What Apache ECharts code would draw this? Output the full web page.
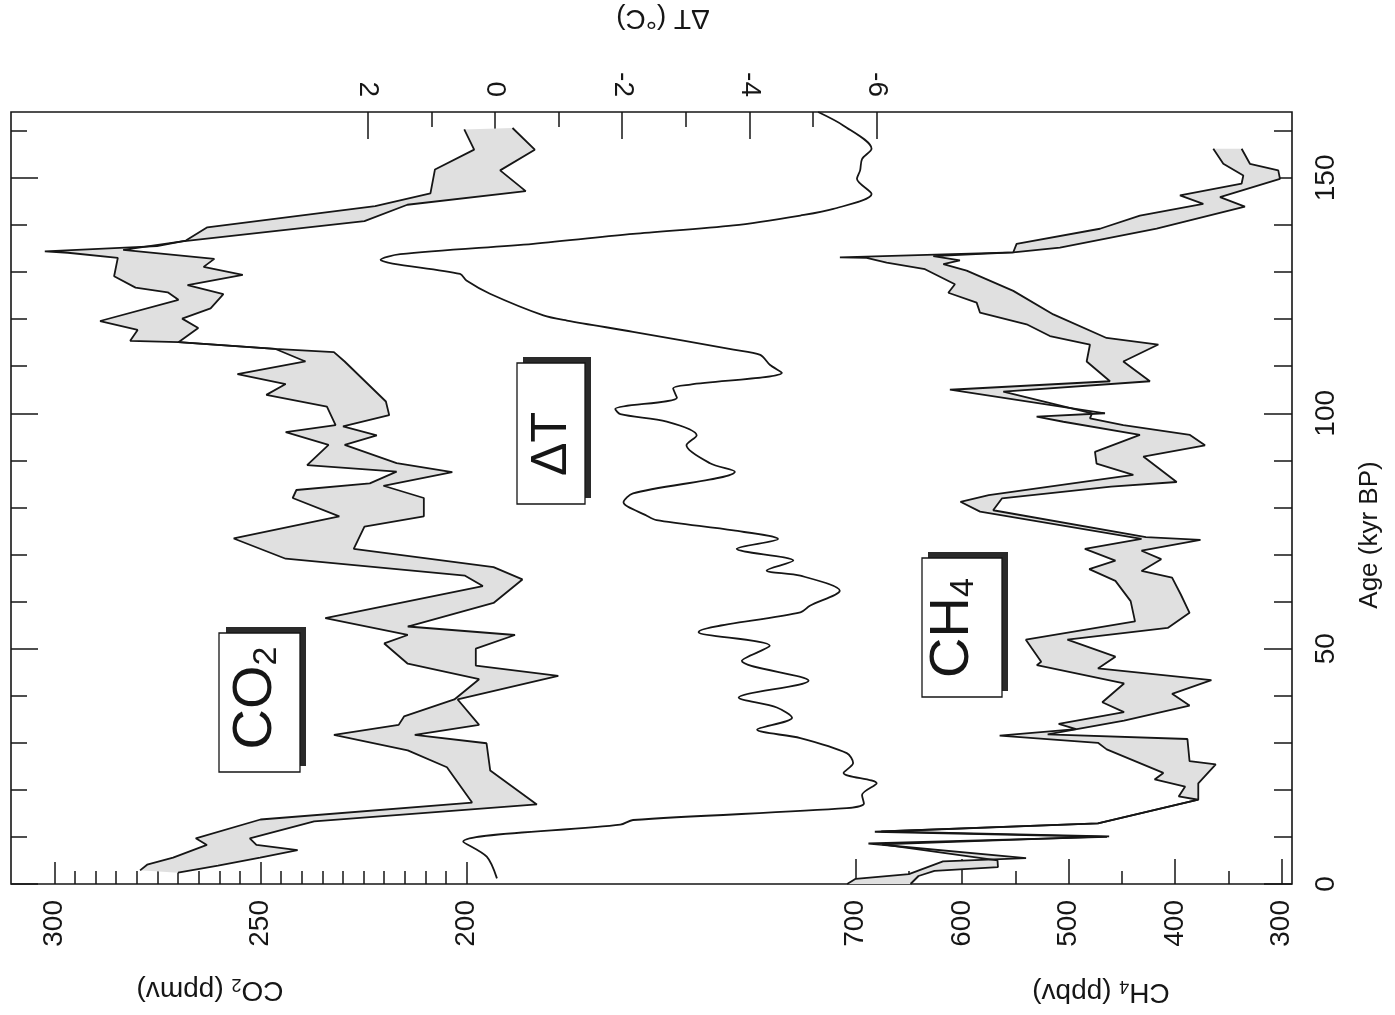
<!DOCTYPE html>
<html><head><meta charset="utf-8">
<script src="https://cdn.jsdelivr.net/npm/echarts@6/dist/echarts.min.js"></script>
<style>html,body{margin:0;padding:0;background:#fff}#c{width:1395px;height:1015px}</style>
</head><body><div id="c"></div>
<script>
// ---- tick values ----
const ageMajor = [0, 50, 100, 150];
const ageMinor = [10, 20, 30, 40, 60, 70, 80, 90, 110, 120, 130, 140, 160];
const co2Major = [200, 250, 300];
const co2Minor = [205, 210, 215, 220, 225, 230, 235, 240, 245, 255, 260, 265, 270, 275, 280, 285, 290, 295];
const ch4Major = [300, 400, 500, 600, 700];
const ch4Minor = [350, 450, 550, 650];
const dtMajor = [2, 0, -2, -4, -6];
const dtMinor = [1, -1, -3, -5];

// ---- data: [age kyr BP, value] ----
const co2High = [[2.9,279.2],[4.1,277.5],[5.6,271.2],[8.3,263.0],[9.7,265.7],[13.7,250.0],[17.3,198.7],[24.8,204.8],[28.4,214.3],[31.7,232.2],[33.8,216.5],[35.6,215.2],[39.2,203.0],[43.5,197.0],[46.8,214.3],[51.1,220.0],[52.9,214.3],[56.5,234.3],[63.3,196.1],[65.5,200.4],[69.1,243.9],[73.4,256.5],[78.1,230.9],[82.0,242.2],[83.7,241.3],[85.1,223.5],[87.6,217.0],[89.0,238.7],[93.3,233.5],[96.0,243.9],[97.5,231.8],[101.4,233.9],[103.9,248.6],[106.2,243.9],[108.3,255.6],[111.0,239.1],[113.7,246.5],[115.1,269.9],[115.4,281.6],[117.7,279.8],[119.6,288.9],[124.1,269.9],[125.7,272.5],[126.7,280.3],[129.1,285.5],[133.0,284.6],[134.1,296.7],[134.4,302.3],[135.5,275.1],[136.7,268.1],[139.5,262.9],[144.0,222.2],[146.7,208.8],[151.8,207.7],[156.0,198.2],[160.3,200.6]];
const co2Low = [[2.4,270.0],[3.9,260.3],[5.6,250.1],[7.2,241.0],[8.3,251.0],[9.7,252.6],[13.3,237.0],[16.9,183.0],[24.1,194.3],[29.9,195.2],[31.7,212.6],[33.8,197.0],[39.2,202.2],[44.2,177.8],[46.4,197.8],[50.0,197.8],[52.9,188.3],[54.7,214.3],[59.7,193.5],[64.7,186.5],[67.3,193.5],[71.2,227.4],[75.9,224.8],[78.1,210.4],[82.0,210.4],[84.6,220.2],[87.5,203.5],[89.4,217.0],[93.3,229.6],[95.3,221.8],[97.2,230.0],[99.6,218.8],[102.5,219.6],[111.0,229.6],[113.0,232.2],[113.7,246.5],[115.1,269.9],[118.1,265.1],[120.1,269.0],[122.3,262.1],[125.3,259.0],[127.2,267.7],[129.4,254.3],[131.1,263.8],[132.8,261.2],[134.7,283.3],[136.5,269.0],[140.8,224.8],[144.3,214.4],[147.2,185.7],[151.6,191.9],[156.0,183.5],[160.6,188.9]];
const deltaT = [[1.2,-0.03],[5.8,0.13],[9.0,0.50],[12.6,-1.97],[13.6,-2.17],[16.1,-5.53],[17.1,-5.80],[18.9,-5.77],[21.4,-6.00],[23.6,-5.48],[25.7,-5.63],[27.8,-5.53],[31.0,-4.80],[32.8,-4.12],[35.3,-4.67],[37.5,-4.43],[39.6,-3.83],[43.2,-4.93],[47.4,-3.88],[50.6,-4.32],[53.5,-3.20],[57.7,-4.80],[59.1,-4.95],[62.3,-5.42],[65.5,-4.80],[66.6,-4.27],[68.7,-4.69],[71.2,-3.80],[73.3,-4.45],[75.1,-3.75],[77.3,-2.54],[78.3,-2.38],[81.1,-2.02],[83.0,-2.17],[87.6,-3.77],[89.4,-3.38],[93.2,-3.01],[95.3,-3.17],[98.2,-2.70],[99.8,-1.97],[100.9,-1.89],[103.3,-2.86],[105.3,-2.80],[106.1,-3.07],[108.6,-4.51],[110.3,-4.32],[112.4,-4.17],[113.5,-3.75],[117.3,-2.17],[119.7,-1.13],[120.8,-0.76],[125.4,0.08],[128.2,0.45],[129.6,0.55],[131.8,1.61],[132.6,1.80],[133.8,1.49],[136.0,-0.60],[138.1,-2.17],[139.9,-3.75],[142.0,-4.80],[143.4,-5.32],[146.6,-5.92],[149.8,-5.69],[151.6,-5.74],[154.0,-5.77],[156.2,-5.92],[161.1,-5.48],[164.0,-5.08]];
const ch4High = [[0.0,708],[1.1,700],[2.1,650],[4.8,618],[5.5,540],[8.6,688],[10.0,464],[11.1,682],[12.9,472.5],[17.9,378.3],[18.6,396.7],[20.7,390.6],[22.2,419.3],[23.6,411.1],[28.6,464.3],[30.0,472.5],[31.5,564.8],[32.9,493.0],[34.0,509.4],[36.5,448.0],[38.6,468.4],[42.6,448.0],[46.5,529.9],[47.2,525.8],[51.9,540.2],[55.8,437.7],[60.1,441.8],[64.4,456.1],[66.9,480.7],[68.7,456.1],[71.2,484.8],[73.3,431.6],[79.1,583.2],[81.2,601.6],[82.6,575.0],[86.9,439.3],[89.3,473.8],[91.8,475.3],[95.4,433.1],[98.2,505.0],[99.3,530.1],[100.0,465.9],[105.0,611.5],[106.8,461.2],[111.0,483.1],[114.6,480.0],[116.4,517.6],[118.9,539.5],[121.4,583.3],[123.5,586.4],[125.6,613.0],[127.4,606.8],[130.6,634.9],[132.0,670.9],[133.0,689.7],[133.1,714.8],[134.2,552.0],[136.0,548.9],[139.2,470.6],[142.0,433.1],[144.5,373.6],[146.3,395.5],[148.8,337.6],[150.5,336.0],[153.0,354.8],[156.2,364.2]];
const ch4Low = [[0.0,648.5],[1.7,641],[2.8,626],[3.6,566.4],[5.0,566.8],[8.4,675],[10.1,462],[11.2,676],[12.9,472.5],[17.9,378.3],[21.4,378.3],[25.4,361.9],[26.1,386.5],[30.8,388.5],[31.8,519.7],[34.7,448.0],[37.9,386.5],[40.4,402.9],[43.3,366.0],[45.8,472.5],[48.3,456.1],[51.9,501.2],[54.4,407.0],[57.6,386.5],[61.5,394.7],[65.1,402.9],[66.5,431.6],[69.0,413.1],[70.8,431.6],[73.1,376.2],[73.7,427.5],[79.4,570.9],[81.9,562.7],[84.4,460.2],[85.4,398.6],[90.8,429.9],[93.2,372.0],[95.4,386.1],[97.5,448.7],[98.9,480.0],[100.0,478],[104.6,561.4],[106.8,423.7],[111.0,448.7],[114.6,415.8],[116.0,464.4],[121.0,514.4],[126.0,552.0],[130.3,595.8],[131.7,617.7],[132.5,602.1],[133.4,627.1],[134.2,552.0],[135.2,508.2],[139.2,417.4],[143.9,334.5],[145.9,357.9],[149.8,301.6],[151.6,303.2],[153.0,329.8],[156.2,337.6]];

const F = "'Liberation Sans', Arial, Helvetica, sans-serif";
const INK = '#161616';

function xAxisDef(min, max, pos, ticks, len, labels, margin) {
  return {
    type: 'value', position: pos, inverse: true, min: min, max: max,
    axisLine: {show: false, onZero: false}, splitLine: {show: false},
    axisTick: {show: true, inside: true, length: len, customValues: ticks, lineStyle: {color: INK, width: 1.5}},
    axisLabel: labels ? {show: true, customValues: labels, rotate: 90, margin: margin, fontSize: 28, fontFamily: F, color: INK} : {show: false}
  };
}
function yAxisDef(pos, ticks, len, labels) {
  return {
    type: 'value', position: pos, min: 0, max: 164,
    axisLine: {show: false, onZero: false}, splitLine: {show: false},
    axisTick: {show: true, inside: true, length: len, customValues: ticks, lineStyle: {color: INK, width: 1.5}},
    axisLabel: labels ? {show: true, customValues: labels, rotate: 90, margin: 20, fontSize: 28, fontFamily: F, color: INK} : {show: false}
  };
}
const toXY = arr => arr.map(p => [p[1], p[0]]);

function band(hi, lo) {
  return function (params, api) {
    const pts = hi.map(p => api.coord([p[1], p[0]]))
      .concat(lo.slice().reverse().map(p => api.coord([p[1], p[0]])));
    return {type: 'polygon', shape: {points: pts}, style: {fill: '#e0e0e0', stroke: null}, silent: true};
  };
}
function lineSeries(data, xi, smooth) {
  return {type: 'line', xAxisIndex: xi, yAxisIndex: 0, data: toXY(data), showSymbol: false, symbol: 'none',
    smooth: smooth || false, lineStyle: {color: INK, width: 1.8}, z: 3, silent: true};
}
function boxText(x, y, rich, text) {
  return {type: 'text', x: x, y: y, rotation: Math.PI / 2, z: 12,
    style: {text: text, rich: rich, align: 'center', verticalAlign: 'middle'}};
}
const big = {a: {fontSize: 56, fontFamily: F, fill: INK, lineHeight: 56},
             b: {fontSize: 34, fontFamily: F, fill: INK, lineHeight: 36, verticalAlign: 'bottom'}};
const small = {a: {fontSize: 28, fontFamily: F, fill: INK, lineHeight: 30},
               b: {fontSize: 18, fontFamily: F, fill: INK, lineHeight: 22, verticalAlign: 'bottom'}};

const chart = echarts.init(document.getElementById('c'), null, {renderer: 'canvas'});
chart.setOption({
  animation: false,
  backgroundColor: '#fff',
  grid: {left: 11, right: 103, top: 112, bottom: 131, show: true, borderColor: INK, borderWidth: 1.6,
         backgroundColor: 'transparent', containLabel: false, outerBoundsMode: 'none'},
  xAxis: [
    xAxisDef(-0.1, 310.5, 'bottom', co2Major, 22, co2Major, 16),
    xAxisDef(-0.1, 310.5, 'bottom', co2Minor, 13, null),
    xAxisDef(290.3, 1493.1, 'bottom', ch4Major, 25, ch4Major, 16),
    xAxisDef(290.3, 1493.1, 'bottom', ch4Minor, 13, null),
    xAxisDef(-12.53, 7.61, 'top', dtMajor, 27, dtMajor, 15),
    xAxisDef(-12.53, 7.61, 'top', dtMinor, 15, null)
  ],
  yAxis: [
    yAxisDef('right', ageMajor, 28, ageMajor),
    yAxisDef('right', ageMinor, 18, null),
    yAxisDef('left', ageMajor, 27, null),
    yAxisDef('left', ageMinor, 16, null)
  ],
  series: [
    {type: 'custom', xAxisIndex: 0, yAxisIndex: 0, data: [[co2High[0][1], co2High[0][0]]], renderItem: band(co2High, co2Low), z: 1, silent: true},
    {type: 'custom', xAxisIndex: 2, yAxisIndex: 0, data: [[ch4High[0][1], ch4High[0][0]]], renderItem: band(ch4High, ch4Low), z: 1, silent: true},
    lineSeries(co2High, 0),
    lineSeries(co2Low, 0),
    lineSeries(deltaT, 4, 0.3),
    lineSeries(ch4High, 2),
    lineSeries(ch4Low, 2)
  ],
  graphic: [
    {type: 'rect', shape: {x: 226, y: 627, width: 80, height: 139}, style: {fill: '#2a2a2a'}, z: 10},
    {type: 'rect', shape: {x: 219, y: 633, width: 81, height: 139}, style: {fill: '#fff', stroke: INK, lineWidth: 1.3}, z: 11},
    boxText(256, 698, big, '{a|CO}{b|2}'),
    {type: 'rect', shape: {x: 523, y: 357, width: 68, height: 141}, style: {fill: '#2a2a2a'}, z: 10},
    {type: 'rect', shape: {x: 517, y: 363, width: 68, height: 141}, style: {fill: '#fff', stroke: INK, lineWidth: 1.3}, z: 11},
    boxText(552, 444, {a: {fontSize: 50, fontFamily: F, fill: INK}}, '{a|ΔT}'),
    {type: 'rect', shape: {x: 928, y: 552, width: 80, height: 139}, style: {fill: '#2a2a2a'}, z: 10},
    {type: 'rect', shape: {x: 922, y: 558, width: 80, height: 139}, style: {fill: '#fff', stroke: INK, lineWidth: 1.3}, z: 11},
    boxText(953, 628, big, '{a|CH}{b|4}'),
    {type: 'text', x: 210, y: 990, rotation: Math.PI, z: 12, style: {text: '{a|CO}{b|2}{a| (ppmv)}', rich: small, align: 'center', verticalAlign: 'middle'}},
    {type: 'text', x: 1101, y: 992, rotation: Math.PI, z: 12, style: {text: '{a|CH}{b|4}{a| (ppbv)}', rich: small, align: 'center', verticalAlign: 'middle'}},
    {type: 'text', x: 663, y: 18, rotation: Math.PI, z: 12, style: {text: 'ΔT (°C)', fontSize: 28, fontFamily: F, fill: INK, align: 'center', verticalAlign: 'middle'}},
    {type: 'text', x: 1370, y: 535, rotation: Math.PI / 2, z: 12, style: {text: 'Age (kyr BP)', fontSize: 26, fontFamily: F, fill: INK, align: 'center', verticalAlign: 'middle'}}
  ]
});
</script>
</body></html>
